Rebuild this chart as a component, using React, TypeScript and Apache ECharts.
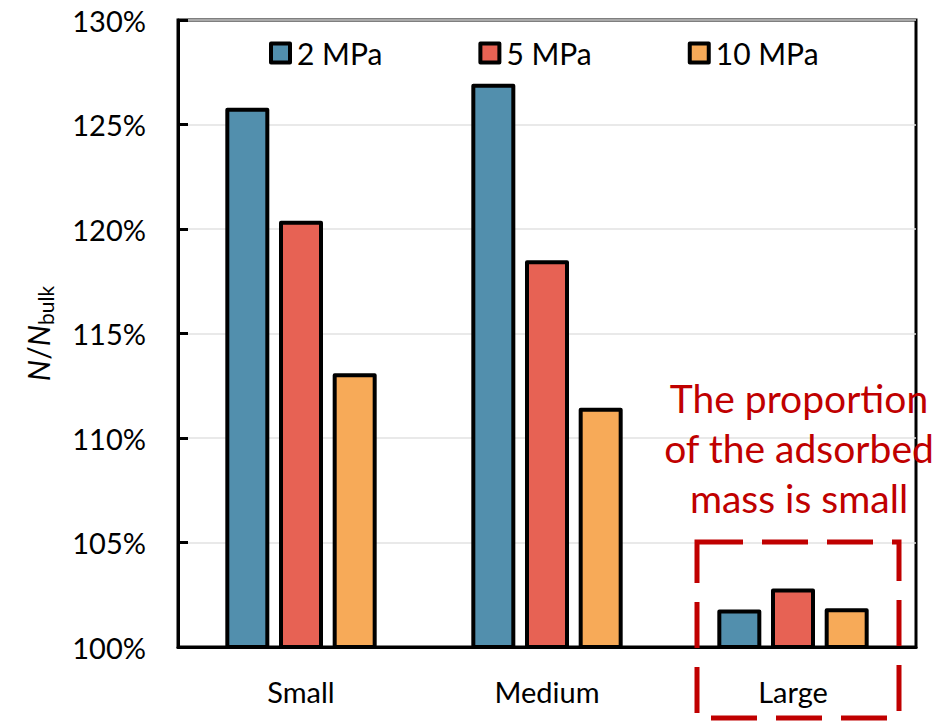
import React, { useEffect, useRef } from "react";
import * as echarts from "echarts";

const categories = ["Small", "Medium", "Large"];
const seriesNames = ["2 MPa", "5 MPa", "10 MPa"];
const values2MPa = [125.8, 126.95, 101.8];
const values5MPa = [120.4, 118.5, 102.8];
const values10MPa = [113.1, 111.45, 101.85];
const colors = ["#528FAD", "#E76254", "#F7AA58"];
const yTicks = { min: 100, max: 130, interval: 5 };
const annotationText = ["The proportion", "of the adsorbed", "mass is small"];

const FONT = "Lato, 'Open Sans', sans-serif";

export default function App() {
  const ref = useRef<HTMLDivElement>(null);
  useEffect(() => {
    if (!ref.current) return;
    const chart = echarts.init(ref.current, null, { renderer: "svg" });
    const allValues = [values2MPa, values5MPa, values10MPa];
    chart.setOption({
      animation: false,
      backgroundColor: "#ffffff",
      grid: {
        left: 178,
        right: 29,
        top: 20,
        bottom: 77,
        show: true,
        borderColor: "#000",
        borderWidth: 3,
        containLabel: false,
      },
      legend: {
        data: seriesNames,
        left: 264,
        top: 33,
        itemWidth: 19,
        itemHeight: 19,
        itemGap: 96,
        icon: "rect",
        itemStyle: { borderColor: "#000", borderWidth: 4 },
        textStyle: {
          fontFamily: FONT,
          fontSize: 30,
          color: "#000",
          padding: [0, 0, 0, 2],
        },
      },
      xAxis: {
        type: "category",
        data: categories,
        axisLine: { show: true, lineStyle: { color: "#000", width: 3 } },
        axisTick: { show: false },
        axisLabel: {
          fontFamily: FONT,
          fontSize: 29,
          color: "#000",
          margin: 30,
        },
      },
      yAxis: {
        type: "value",
        min: yTicks.min,
        max: yTicks.max,
        interval: yTicks.interval,
        name: "{i|N}{r|/}{i|N}{s|bulk}",
        nameLocation: "middle",
        nameGap: 122,
        nameRotate: 90,
        nameTextStyle: {
          rich: {
            i: { fontFamily: FONT, fontSize: 30, fontStyle: "italic", color: "#000" },
            r: { fontFamily: FONT, fontSize: 30, color: "#000" },
            s: { fontFamily: FONT, fontSize: 21, color: "#000", padding: [16, 0, 0, 0] },
          },
        },
        axisLine: { show: true, lineStyle: { color: "#000", width: 3 } },
        axisTick: { show: true, inside: true, length: 10, lineStyle: { color: "#000", width: 3 } },
        splitLine: { show: true, lineStyle: { color: "#e2e2e2", width: 1.5 } },
        axisLabel: {
          fontFamily: FONT,
          fontSize: 29,
          color: "#000",
          margin: 32,
          formatter: (v: number) => Math.round(v) + "%",
        },
      },
      series: seriesNames.map((name, i) => ({
        name,
        type: "bar",
        data: allValues[i],
        barWidth: 44,
        barGap: "22%",
        itemStyle: {
          color: colors[i],
          borderColor: "#000",
          borderWidth: 4,
          borderJoin: "round",
        },
      })),
      graphic: [
        {
          type: "text",
          x: 799,
          y: 448,
          style: {
            text: annotationText.join("\n"),
            fill: "#C00000",
            font: `39px ${FONT}`,
            lineHeight: 50,
            align: "center",
            verticalAlign: "middle",
          },
          z: 100,
        },
        {
          type: "rect",
          shape: { x: 697, y: 542, width: 202, height: 176 },
          style: {
            fill: "none",
            stroke: "#C00000",
            lineWidth: 5,
            lineDash: [46, 19],
          },
          z: 100,
        },
      ],
    });
    return () => chart.dispose();
  }, []);
  return (
    <div
      ref={ref}
      style={{ position: "fixed", left: 0, top: 0, width: 945, height: 724 }}
    />
  );
}
